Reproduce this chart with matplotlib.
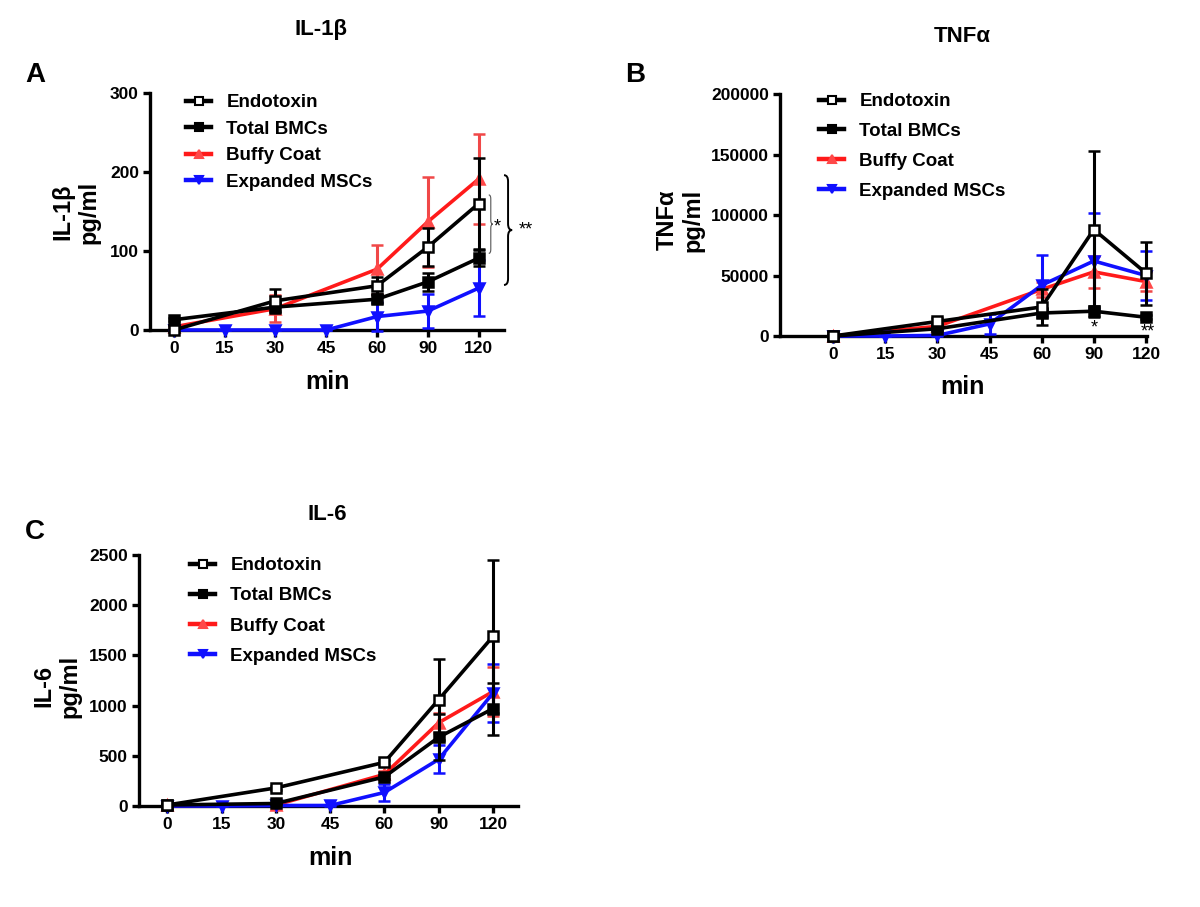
import numpy as np
import matplotlib
matplotlib.use("Agg")
import matplotlib.pyplot as plt
from matplotlib.lines import Line2D
from matplotlib.path import Path
from matplotlib.patches import PathPatch

plt.rcParams['font.family'] = ['Liberation Sans', 'DejaVu Sans']
plt.rcParams['font.weight'] = 'bold'

nan = np.nan
times = ['0', '15', '30', '45', '60', '90', '120']
series = ['Endotoxin', 'Total BMCs', 'Buffy Coat', 'Expanded MSCs']

# IL-1beta (pg/ml)
il1b_endo = [0, nan, 37, nan, 56, 105, 160]
il1b_endo_err = [2, nan, 15, nan, 11, 24, 58]
il1b_bmc = [13, nan, 29, nan, 39, 61, 91]
il1b_bmc_err = [2, nan, 5, nan, 5, 11, 10]
il1b_buffy = [4, nan, 27, nan, 77, 137, 191]
il1b_buffy_err = [2, nan, 17, nan, 31, 57, 57]
il1b_msc = [0, 0, 0, 0, 17, 24, 53]
il1b_msc_err = [0, 0, 0, 0, 18, 22, 35]

# TNF alpha (pg/ml)
tnf_endo = [0, nan, 12000, nan, 24000, 88000, 52000]
tnf_endo_err = [1000, nan, 3000, nan, 15000, 65000, 26000]
tnf_bmc = [0, nan, 6000, nan, 19000, 20500, 15500]
tnf_bmc_err = [500, nan, 1500, nan, 3000, 4500, 1500]
tnf_buffy = [0, nan, 8000, nan, 38500, 53000, 45000]
tnf_buffy_err = [500, nan, 2000, nan, 6000, 13000, 8000]
tnf_msc = [0, 0, 500, 10000, 42000, 62000, 50000]
tnf_msc_err = [0, 0, 500, 8000, 25000, 40000, 20000]

# IL-6 (pg/ml)
il6_endo = [10, nan, 180, nan, 435, 1060, 1690]
il6_endo_err = [5, nan, 20, nan, 25, 405, 765]
il6_bmc = [10, nan, 25, nan, 290, 685, 970]
il6_bmc_err = [5, nan, 5, nan, 20, 230, 260]
il6_buffy = [5, nan, 10, nan, 315, 830, 1140]
il6_buffy_err = [3, nan, 5, nan, 30, 100, 245]
il6_msc = [0, 0, 5, 5, 135, 465, 1125]
il6_msc_err = [0, 0, 3, 3, 85, 140, 285]

colors = ['black', 'black', '#ff1a1a', '#1010ff']
ecolors = ['black', 'black', '#f04848', '#1010ff']
markers = ['s', 's', '^', 'v']
mfcs = ['white', 'black', '#ff4848', '#1010ff']
zorders = [6, 5, 3, 4]

W, H = 1200, 907
fig = plt.figure(figsize=(12, 9.07), dpi=100)


def px_axes(l, t, r, b):
    return fig.add_axes([l / W, 1 - b / H, (r - l) / W, (b - t) / H])


def brace(ax, x0, y0, y1, w, r, **kw):
    # curly brace "}" from y0 to y1, tip pointing right
    ym = (y0 + y1) / 2
    xm = x0 + w / 2
    verts = [(x0, y1), (xm, y1), (xm, y1 - r),
             (xm, ym + r), (xm, ym), (x0 + w, ym),
             (xm, ym), (xm, ym - r),
             (xm, y0 + r), (xm, y0), (x0, y0)]
    codes = [Path.MOVETO, Path.CURVE3, Path.CURVE3,
             Path.LINETO, Path.CURVE3, Path.CURVE3,
             Path.CURVE3, Path.CURVE3,
             Path.LINETO, Path.CURVE3, Path.CURVE3]
    ax.add_patch(PathPatch(Path(verts, codes), fill=False, clip_on=False, **kw))


def panel(ax, data, errs, ymax, yticks, xlim, leg_pos, spacing):
    x = np.arange(len(times))
    for i, (y, e) in enumerate(zip(data, errs)):
        y = np.array(y, dtype=float)
        e = np.array(e, dtype=float)
        m = ~np.isnan(y)
        h = ax.errorbar(x[m], y[m], yerr=e[m], color=colors[i], lw=2.6,
                        marker=markers[i], mfc=mfcs[i], mec=colors[i] if i < 2 else mfcs[i],
                        ms=7.5, mew=1.8, ecolor=ecolors[i], elinewidth=2.2, capsize=4,
                        capthick=2.2, zorder=zorders[i], clip_on=False)
        for c in h[1]:
            c.set_clip_on(False)
        for c in h[2]:
            c.set_clip_on(False)
    ax.set_xlim(*xlim)
    ax.set_ylim(0, ymax)
    ax.set_xticks(x)
    ax.set_xticklabels(times)
    ax.set_yticks(yticks)
    for s in ['top', 'right']:
        ax.spines[s].set_visible(False)
    for s in ['left', 'bottom']:
        ax.spines[s].set_linewidth(2.4)
    ax.tick_params(width=2.4, length=5, labelsize=12.5, pad=3)
    for lab in ax.get_xticklabels() + ax.get_yticklabels():
        lab.set_fontweight('bold')
    handles = [Line2D([], [], color=colors[i], lw=3.2, marker=markers[i], mfc=mfcs[i],
                      mec=colors[i] if i < 2 else mfcs[i], ms=5.5, mew=1.5)
               for i in range(4)]
    ax.legend(handles, series, loc='upper left', frameon=False,
              prop={'weight': 'bold', 'size': 13.5}, numpoints=1,
              handlelength=1.35, handletextpad=0.8, borderpad=0, borderaxespad=0,
              labelspacing=spacing,
              bbox_to_anchor=(leg_pos[0] / W, 1 - leg_pos[1] / H),
              bbox_transform=fig.transFigure)


axA = px_axes(150, 93, 504, 330)
panel(axA, [il1b_endo, il1b_bmc, il1b_buffy, il1b_msc],
      [il1b_endo_err, il1b_bmc_err, il1b_buffy_err, il1b_msc_err],
      300, [0, 100, 200, 300], (-0.47, 6.5), (186, 94), 0.5)

axB = px_axes(780, 94, 1147, 336)
panel(axB, [tnf_endo, tnf_bmc, tnf_buffy, tnf_msc],
      [tnf_endo_err, tnf_bmc_err, tnf_buffy_err, tnf_msc_err],
      200000, [0, 50000, 100000, 150000, 200000], (-1.02, 6.02), (819, 93), 0.68)

axC = px_axes(139, 555, 518, 806)
panel(axC, [il6_endo, il6_bmc, il6_buffy, il6_msc],
      [il6_endo_err, il6_bmc_err, il6_buffy_err, il6_msc_err],
      2500, [0, 500, 1000, 1500, 2000, 2500], (-0.52, 6.46), (190, 557), 0.7)

# significance marks, panel A
brace(axA, 6.2, 97, 171, 0.08, 5, lw=0.8, edgecolor='#555555')
axA.text(6.37, 131, '*', fontsize=13, fontweight='normal', ha='center', va='center')
brace(axA, 6.5, 57, 196, 0.16, 8, lw=1.4, edgecolor='black')
axA.text(6.93, 127, '**', fontsize=13, fontweight='normal', ha='center', va='center')

# significance marks, panel B
axB.text(5, 6500, '*', fontsize=13, fontweight='normal', ha='center', va='center')
axB.text(6.03, 3000, '**', fontsize=13, fontweight='normal', ha='center', va='center')

# titles, letters, axis labels
narrow = ['Liberation Sans Narrow', 'Liberation Sans', 'DejaVu Sans']
fig.text(321 / W, 1 - 30 / H, 'IL-1β', fontsize=16, fontweight='bold', ha='center',
         va='center', family=narrow)
fig.text(962 / W, 1 - 37 / H, 'TNFα', fontsize=16, fontweight='bold', ha='center',
         va='center', family=narrow)
fig.text(327 / W, 1 - 515 / H, 'IL-6', fontsize=16, fontweight='bold', ha='center',
         va='center', family=narrow)
fig.text(35 / W, 1 - 75 / H, 'A', fontsize=20, fontweight='bold', ha='center', va='center')
fig.text(635 / W, 1 - 75 / H, 'B', fontsize=20, fontweight='bold', ha='center', va='center')
fig.text(35 / W, 1 - 532 / H, 'C', fontsize=20, fontweight='bold', ha='center', va='center')

fig.text(76 / W, 1 - 212 / H, 'IL-1β\npg/ml', fontsize=17, fontweight='bold', rotation=90,
         ha='center', va='center', multialignment='center', linespacing=1.15)
fig.text(680 / W, 1 - 220 / H, 'TNFα\npg/ml', fontsize=17, fontweight='bold', rotation=90,
         ha='center', va='center', multialignment='center', linespacing=1.15)
fig.text(57 / W, 1 - 686 / H, 'IL-6\npg/ml', fontsize=17, fontweight='bold', rotation=90,
         ha='center', va='center', multialignment='center', linespacing=1.15)

fig.text(327 / W, 1 - 382 / H, 'min', fontsize=18, fontweight='bold', ha='center', va='center')
fig.text(962 / W, 1 - 387 / H, 'min', fontsize=18, fontweight='bold', ha='center', va='center')
fig.text(330 / W, 1 - 858 / H, 'min', fontsize=18, fontweight='bold', ha='center', va='center')

fig.savefig('out.png', dpi=100)
